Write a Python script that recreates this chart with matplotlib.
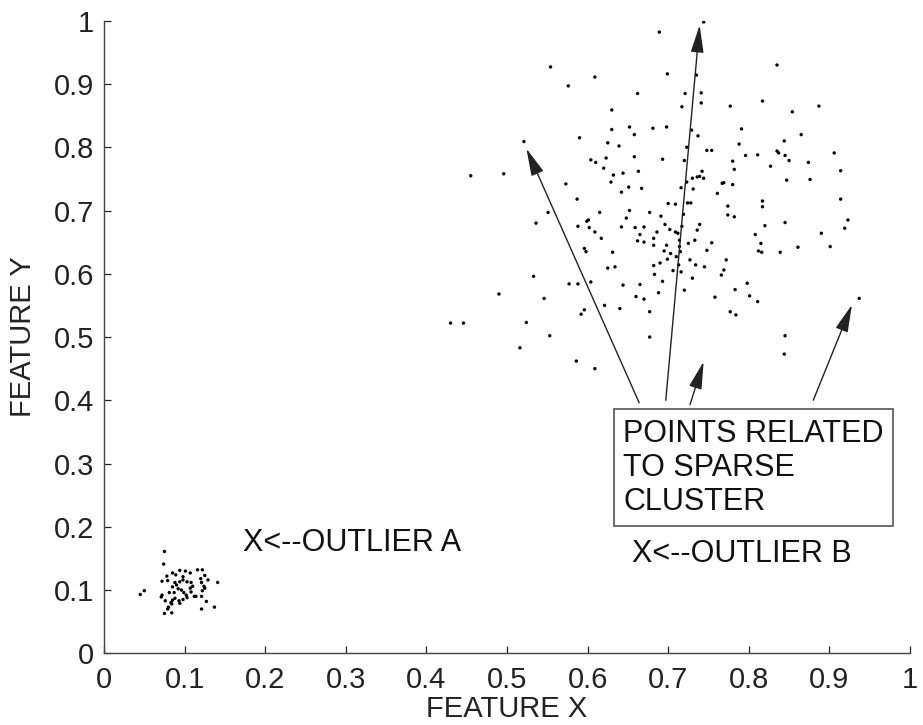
import numpy as np
import matplotlib.pyplot as plt

plt.rcParams['font.family'] = ['Liberation Sans', 'DejaVu Sans']

# dense cluster near the origin
dense_x = [0.075, 0.074, 0.094, 0.101, 0.107, 0.116, 0.122, 0.078, 0.085, 0.089,
           0.125, 0.129, 0.072, 0.079, 0.098, 0.098, 0.094, 0.103, 0.108, 0.110,
           0.090, 0.092, 0.096, 0.085, 0.088, 0.120, 0.121, 0.124, 0.141, 0.081,
           0.087, 0.099, 0.102, 0.107, 0.108, 0.125, 0.122, 0.112, 0.114, 0.103,
           0.098, 0.072, 0.071, 0.088, 0.085, 0.076, 0.093, 0.094, 0.121, 0.127,
           0.083, 0.084, 0.080, 0.079, 0.075, 0.084, 0.121, 0.137, 0.050, 0.045]
dense_y = [0.161, 0.141, 0.131, 0.130, 0.127, 0.132, 0.132, 0.122, 0.127, 0.124,
           0.123, 0.116, 0.114, 0.115, 0.121, 0.116, 0.113, 0.113, 0.112, 0.106,
           0.108, 0.102, 0.100, 0.105, 0.112, 0.118, 0.112, 0.106, 0.112, 0.096,
           0.096, 0.096, 0.092, 0.103, 0.097, 0.103, 0.099, 0.090, 0.090, 0.088,
           0.085, 0.092, 0.089, 0.087, 0.084, 0.083, 0.083, 0.079, 0.090, 0.082,
           0.080, 0.078, 0.073, 0.070, 0.063, 0.064, 0.070, 0.073, 0.099, 0.093]

# sparse cluster
sparse_x = [0.554, 0.576, 0.609, 0.521, 0.590, 0.604, 0.610, 0.455, 0.496,
            0.744, 0.689, 0.699, 0.735, 0.662, 0.721, 0.741, 0.741, 0.717, 0.777,
            0.630, 0.652, 0.630, 0.681, 0.698, 0.658, 0.729, 0.737, 0.791, 0.625,
            0.639, 0.723, 0.748, 0.754, 0.788, 0.623, 0.658, 0.693, 0.720, 0.796,
            0.811, 0.780, 0.620, 0.632, 0.644, 0.663, 0.742, 0.782, 0.730, 0.736,
            0.739, 0.744,
            0.835, 0.817, 0.854, 0.887, 0.865, 0.844, 0.835, 0.837, 0.845, 0.850,
            0.827, 0.874, 0.906, 0.914, 0.847, 0.876,
            0.573, 0.587, 0.551, 0.536, 0.588, 0.599, 0.601, 0.602, 0.609, 0.615,
            0.596, 0.598, 0.533, 0.490, 0.577, 0.588, 0.604, 0.546, 0.596, 0.592,
            0.430, 0.446, 0.524, 0.553, 0.516, 0.586, 0.609,
            0.629, 0.642, 0.651, 0.667, 0.716, 0.723, 0.731, 0.767, 0.769, 0.780,
            0.761, 0.700, 0.709, 0.724, 0.728, 0.652, 0.677, 0.691, 0.719, 0.774,
            0.774, 0.782, 0.648, 0.642, 0.659, 0.670, 0.696, 0.702, 0.709, 0.712,
            0.717, 0.736, 0.739, 0.686, 0.665, 0.617, 0.662, 0.670, 0.682, 0.682,
            0.714, 0.733, 0.725, 0.754, 0.808, 0.698, 0.714, 0.631, 0.695, 0.703,
            0.715, 0.748, 0.812, 0.710, 0.699, 0.727, 0.772, 0.690, 0.682, 0.713,
            0.734, 0.745, 0.625, 0.634, 0.706, 0.716, 0.769, 0.683, 0.766, 0.730,
            0.644, 0.665, 0.693, 0.798, 0.720, 0.688, 0.783, 0.660, 0.670, 0.758,
            0.801, 0.811, 0.621, 0.640, 0.677, 0.777, 0.784, 0.677,
            0.817, 0.817, 0.914, 0.845, 0.923, 0.919, 0.820, 0.890, 0.815, 0.816,
            0.839, 0.861, 0.901, 0.937, 0.845, 0.844]
sparse_y = [0.927, 0.897, 0.911, 0.809, 0.815, 0.780, 0.776, 0.755, 0.758,
            0.998, 0.982, 0.916, 0.914, 0.885, 0.885, 0.886, 0.870, 0.864, 0.865,
            0.859, 0.832, 0.828, 0.830, 0.832, 0.820, 0.827, 0.818, 0.829, 0.807,
            0.802, 0.800, 0.795, 0.795, 0.805, 0.783, 0.785, 0.781, 0.779, 0.787,
            0.788, 0.778, 0.767, 0.756, 0.759, 0.762, 0.762, 0.765, 0.751, 0.753,
            0.754, 0.751,
            0.930, 0.873, 0.856, 0.865, 0.820, 0.810, 0.794, 0.791, 0.787, 0.779,
            0.770, 0.776, 0.791, 0.763, 0.748, 0.749,
            0.742, 0.718, 0.697, 0.680, 0.675, 0.683, 0.685, 0.673, 0.666, 0.697,
            0.640, 0.635, 0.596, 0.568, 0.584, 0.584, 0.587, 0.561, 0.543, 0.536,
            0.522, 0.522, 0.523, 0.502, 0.483, 0.462, 0.450,
            0.745, 0.729, 0.737, 0.735, 0.736, 0.745, 0.734, 0.743, 0.744, 0.741,
            0.727, 0.711, 0.710, 0.712, 0.712, 0.700, 0.697, 0.691, 0.694, 0.707,
            0.693, 0.690, 0.688, 0.674, 0.673, 0.674, 0.678, 0.670, 0.666, 0.664,
            0.675, 0.669, 0.678, 0.666, 0.662, 0.656, 0.652, 0.650, 0.656, 0.645,
            0.653, 0.653, 0.648, 0.649, 0.662, 0.645, 0.643, 0.634, 0.636, 0.632,
            0.635, 0.637, 0.636, 0.627, 0.623, 0.622, 0.622, 0.617, 0.613, 0.614,
            0.614, 0.611, 0.609, 0.611, 0.605, 0.603, 0.606, 0.599, 0.598, 0.593,
            0.582, 0.583, 0.588, 0.585, 0.574, 0.570, 0.575, 0.564, 0.560, 0.563,
            0.565, 0.556, 0.550, 0.545, 0.540, 0.540, 0.535, 0.500,
            0.715, 0.706, 0.718, 0.681, 0.685, 0.672, 0.676, 0.664, 0.648, 0.634,
            0.634, 0.642, 0.643, 0.561, 0.502, 0.473]

ticks = [0, 0.1, 0.2, 0.3, 0.4, 0.5, 0.6, 0.7, 0.8, 0.9, 1]
tick_labels = ['0', '0.1', '0.2', '0.3', '0.4', '0.5', '0.6', '0.7', '0.8', '0.9', '1']

# arrows from the note box to the sparse cluster
arrow_tails = [(0.664, 0.396), (0.697, 0.400), (0.727, 0.393), (0.880, 0.400)]
arrow_heads = [(0.524, 0.798), (0.739, 0.993), (0.744, 0.461), (0.928, 0.551)]

fig = plt.figure(figsize=(9.23, 7.25), dpi=100)
ax = fig.add_axes([0.1127, 0.0989, 0.8732, 0.8725])

ax.scatter(dense_x, dense_y, s=6, c='black', edgecolors='none')
ax.scatter(sparse_x, sparse_y, s=6, c='black', edgecolors='none')

ax.set_xlim(0, 1)
ax.set_ylim(0, 1)
ax.set_xticks(ticks)
ax.set_xticklabels(tick_labels)
ax.set_yticks(ticks)
ax.set_yticklabels(tick_labels)
ax.tick_params(direction='in', length=5, width=0.9, labelsize=21, colors='#222')
ax.tick_params(axis='x', pad=9)
ax.tick_params(axis='y', pad=7)
for side in ['top', 'right']:
    ax.spines[side].set_visible(False)
for side in ['left', 'bottom']:
    ax.spines[side].set_color('#444')
    ax.spines[side].set_linewidth(1.0)

ax.set_xlabel('FEATURE X', fontsize=21, color='#222', labelpad=1)
ax.set_ylabel('FEATURE Y', fontsize=21, color='#222', labelpad=12)

for tail, head in zip(arrow_tails, arrow_heads):
    ax.annotate('', xy=head, xytext=tail,
                arrowprops=dict(arrowstyle='-|>,head_length=0.85,head_width=0.2',
                                mutation_scale=20, color='#222', lw=1.0,
                                shrinkA=0, shrinkB=0))

ax.text(0.644, 0.371, 'POINTS RELATED\nTO SPARSE\nCLUSTER', ha='left', va='top',
        fontsize=22, linespacing=1.18, color='#111',
        bbox=dict(boxstyle='square,pad=0.3', fc='white', ec='#555', lw=1.2))

ax.text(0.655, 0.157, 'X<--OUTLIER B', ha='left', va='center',
        fontsize=22, color='#111')
ax.text(0.172, 0.174, 'X<--OUTLIER A', ha='left', va='center',
        fontsize=22, color='#111')

plt.savefig('out.png', dpi=100)
